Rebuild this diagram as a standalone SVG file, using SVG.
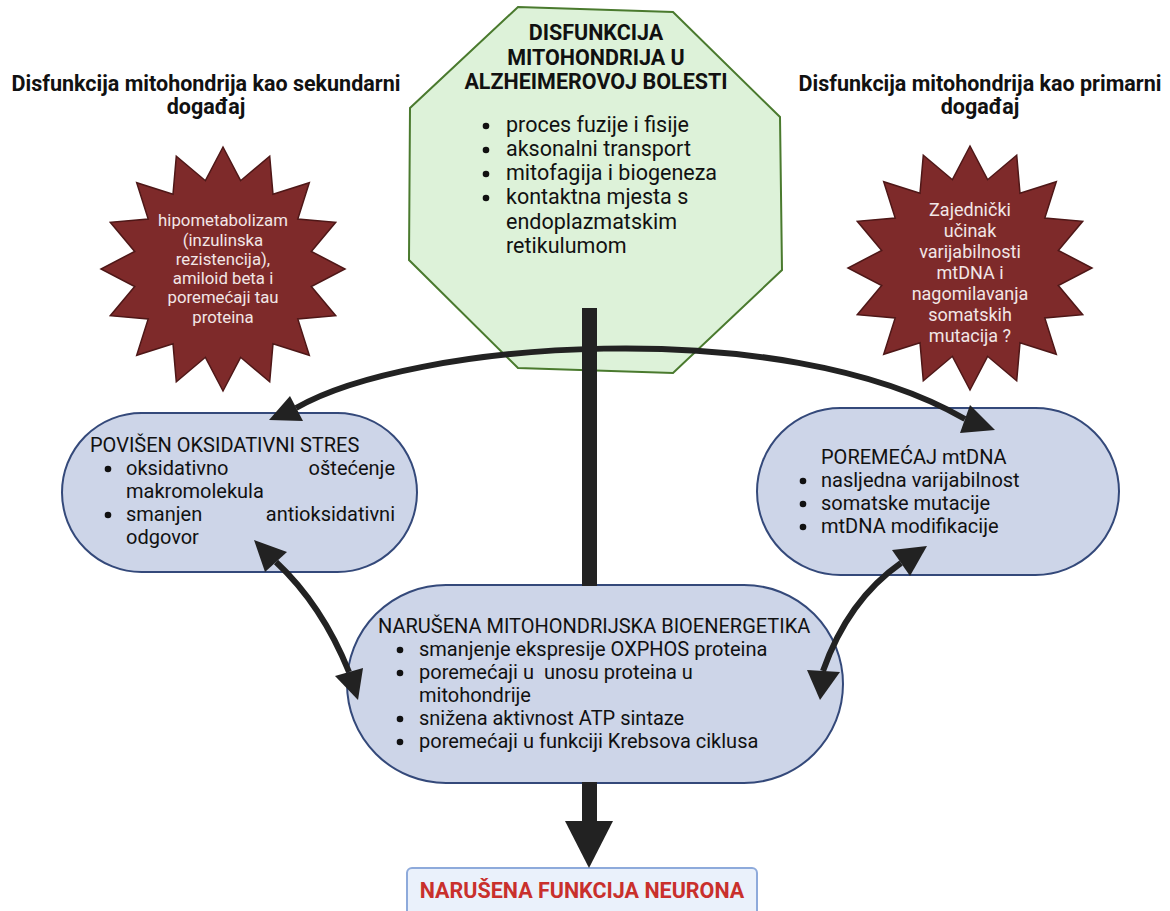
<svg xmlns="http://www.w3.org/2000/svg" width="1170" height="911" viewBox="0 0 1170 911">
<style>
text{font-family:Roboto,"Liberation Sans",sans-serif;fill:#111}
.h{font-weight:bold;font-size:21.5px}
.t{font-size:21.5px}
.o{font-size:20px}
.st{font-size:16.8px;fill:#F2E6E6;text-anchor:middle}
.oval{fill:#CDD5E8;stroke:#34497A;stroke-width:2}
.star{fill:#7E2A2A;stroke:#4E1717;stroke-width:1.5}
.ln{fill:none;stroke:#222;stroke-width:6}
.ah{fill:#222}
.b{fill:#111}
</style>
<defs>
<polygon id="burst" points="0,-122 17.6,-88.3 46.7,-112.7 50,-74.8 86.3,-86.3 74.8,-50 112.7,-46.7 88.3,-17.6 122,0 88.3,17.6 112.7,46.7 74.8,50 86.3,86.3 50,74.8 46.7,112.7 17.6,88.3 0,122 -17.6,88.3 -46.7,112.7 -50,74.8 -86.3,86.3 -74.8,50 -112.7,46.7 -88.3,17.6 -122,0 -88.3,-17.6 -112.7,-46.7 -74.8,-50 -86.3,-86.3 -50,-74.8 -46.7,-112.7 -17.6,-88.3"/>
</defs>
<rect width="1170" height="911" fill="#fff"/>
<g id="head-left"><text class="h" x="206" y="91" text-anchor="middle">Disfunkcija mitohondrija kao sekundarni</text><text class="h" x="206" y="114" text-anchor="middle">događaj</text></g>
<g id="head-right"><text class="h" x="980" y="91" text-anchor="middle">Disfunkcija mitohondrija kao primarni</text><text class="h" x="980" y="114" text-anchor="middle">događaj</text></g>
<g id="octagon">
<polygon points="518,7 673,12 780,117 782,270 673,373 518,368 409,260 410,108" fill="#DDF2D9" stroke="#4A7A2E" stroke-width="2"/>
<text class="h" text-anchor="middle"><tspan x="596" y="40">DISFUNKCIJA</tspan><tspan x="596" y="65">MITOHONDRIJA U</tspan><tspan x="596" y="89">ALZHEIMEROVOJ BOLESTI</tspan></text>
<circle class="b" cx="486" cy="126" r="3.3"/><circle class="b" cx="486" cy="150" r="3.3"/><circle class="b" cx="486" cy="174" r="3.3"/><circle class="b" cx="486" cy="198" r="3.3"/>
<text class="t"><tspan x="506" y="132">proces fuzije i fisije</tspan><tspan x="506" y="156">aksonalni transport</tspan><tspan x="506" y="180">mitofagija i biogeneza</tspan><tspan x="506" y="204">kontaktna mjesta s</tspan><tspan x="506" y="229">endoplazmatskim</tspan><tspan x="506" y="253">retikulumom</tspan></text>
</g>
<g id="star-left">
<use href="#burst" class="star" transform="translate(223,269)"/>
<text class="st"><tspan x="223" y="226">hipometabolizam</tspan><tspan x="223" y="246">(inzulinska</tspan><tspan x="223" y="265">rezistencija),</tspan><tspan x="223" y="284">amiloid beta i</tspan><tspan x="223" y="303">poremećaji tau</tspan><tspan x="223" y="323">proteina</tspan></text>
</g>
<g id="star-right">
<use href="#burst" class="star" transform="translate(970,268)"/>
<text class="st" style="font-size:18px"><tspan x="970" y="216">Zajednički</tspan><tspan x="970" y="237">učinak</tspan><tspan x="970" y="258">varijabilnosti</tspan><tspan x="970" y="279">mtDNA i</tspan><tspan x="970" y="300">nagomilavanja</tspan><tspan x="970" y="321">somatskih</tspan><tspan x="970" y="342">mutacija ?</tspan></text>
</g>
<g id="oval-left">
<rect class="oval" x="62" y="413" width="355" height="159" rx="79.5"/>
<text class="o"><tspan x="90" y="452">POVIŠEN OKSIDATIVNI STRES</tspan></text>
<circle class="b" cx="108" cy="469" r="3.3"/><circle class="b" cx="108" cy="515" r="3.3"/>
<text class="o"><tspan x="126" y="475">oksidativno</tspan><tspan x="126" y="498">makromolekula</tspan><tspan x="126" y="521">smanjen</tspan><tspan x="126" y="544">odgovor</tspan></text>
<text class="o" text-anchor="end"><tspan x="395" y="475">oštećenje</tspan><tspan x="395" y="521">antioksidativni</tspan></text>
</g>
<g id="oval-right">
<rect class="oval" x="757" y="408" width="362" height="167" rx="83.5"/>
<text class="o"><tspan x="821" y="464">POREMEĆAJ mtDNA</tspan><tspan x="821" y="487">nasljedna varijabilnost</tspan><tspan x="821" y="510">somatske mutacije</tspan><tspan x="821" y="533">mtDNA modifikacije</tspan></text>
<circle class="b" cx="803" cy="481" r="3.3"/><circle class="b" cx="803" cy="504" r="3.3"/><circle class="b" cx="803" cy="527" r="3.3"/>
</g>
<g id="oval-mid">
<rect class="oval" x="347" y="585" width="496" height="198" rx="99"/>
<text class="o" style="white-space:pre"><tspan x="378" y="633">NARUŠENA MITOHONDRIJSKA BIOENERGETIKA</tspan><tspan x="419" y="656">smanjenje ekspresije OXPHOS proteina</tspan><tspan x="419" y="679">poremećaji u  unosu proteina u</tspan><tspan x="419" y="702">mitohondrije</tspan><tspan x="419" y="725">snižena aktivnost ATP sintaze</tspan><tspan x="419" y="748">poremećaji u funkciji Krebsova ciklusa</tspan></text>
<circle class="b" cx="400" cy="650" r="3.3"/><circle class="b" cx="400" cy="673" r="3.3"/><circle class="b" cx="400" cy="719" r="3.3"/><circle class="b" cx="400" cy="742" r="3.3"/>
</g>
<g id="outcome">
<rect x="407" y="868" width="350" height="60" rx="5" fill="#EAF1FB" stroke="#8EAADB" stroke-width="2"/>
<text x="582" y="898" text-anchor="middle" style="font-weight:bold;font-size:21.5px;fill:#C9302C">NARUŠENA FUNKCIJA NEURONA</text>
</g>
<g id="connectors">
<path class="ln" d="M296,408 C410,342 780,312 965,419"/>
<polygon class="ah" points="290,396 269,420 303,421"/>
<polygon class="ah" points="970,405 995,430 960,433"/>
<rect class="ah" x="582" y="308" width="15" height="278"/>
<rect class="ah" x="582" y="782" width="15" height="40"/>
<polygon class="ah" points="565,821 613,821 589,868"/>
<path class="ln" d="M276,562 Q322,605 349,672"/>
<polygon class="ah" points="254,540 287,552 265,572"/>
<polygon class="ah" points="358,700 335,676 363,668"/>
<path class="ln" d="M901,563 Q848,600 823,671"/>
<polygon class="ah" points="927,546 892,550 910,576"/>
<polygon class="ah" points="820,700 807,670 840,672"/>
</g>
</svg>
